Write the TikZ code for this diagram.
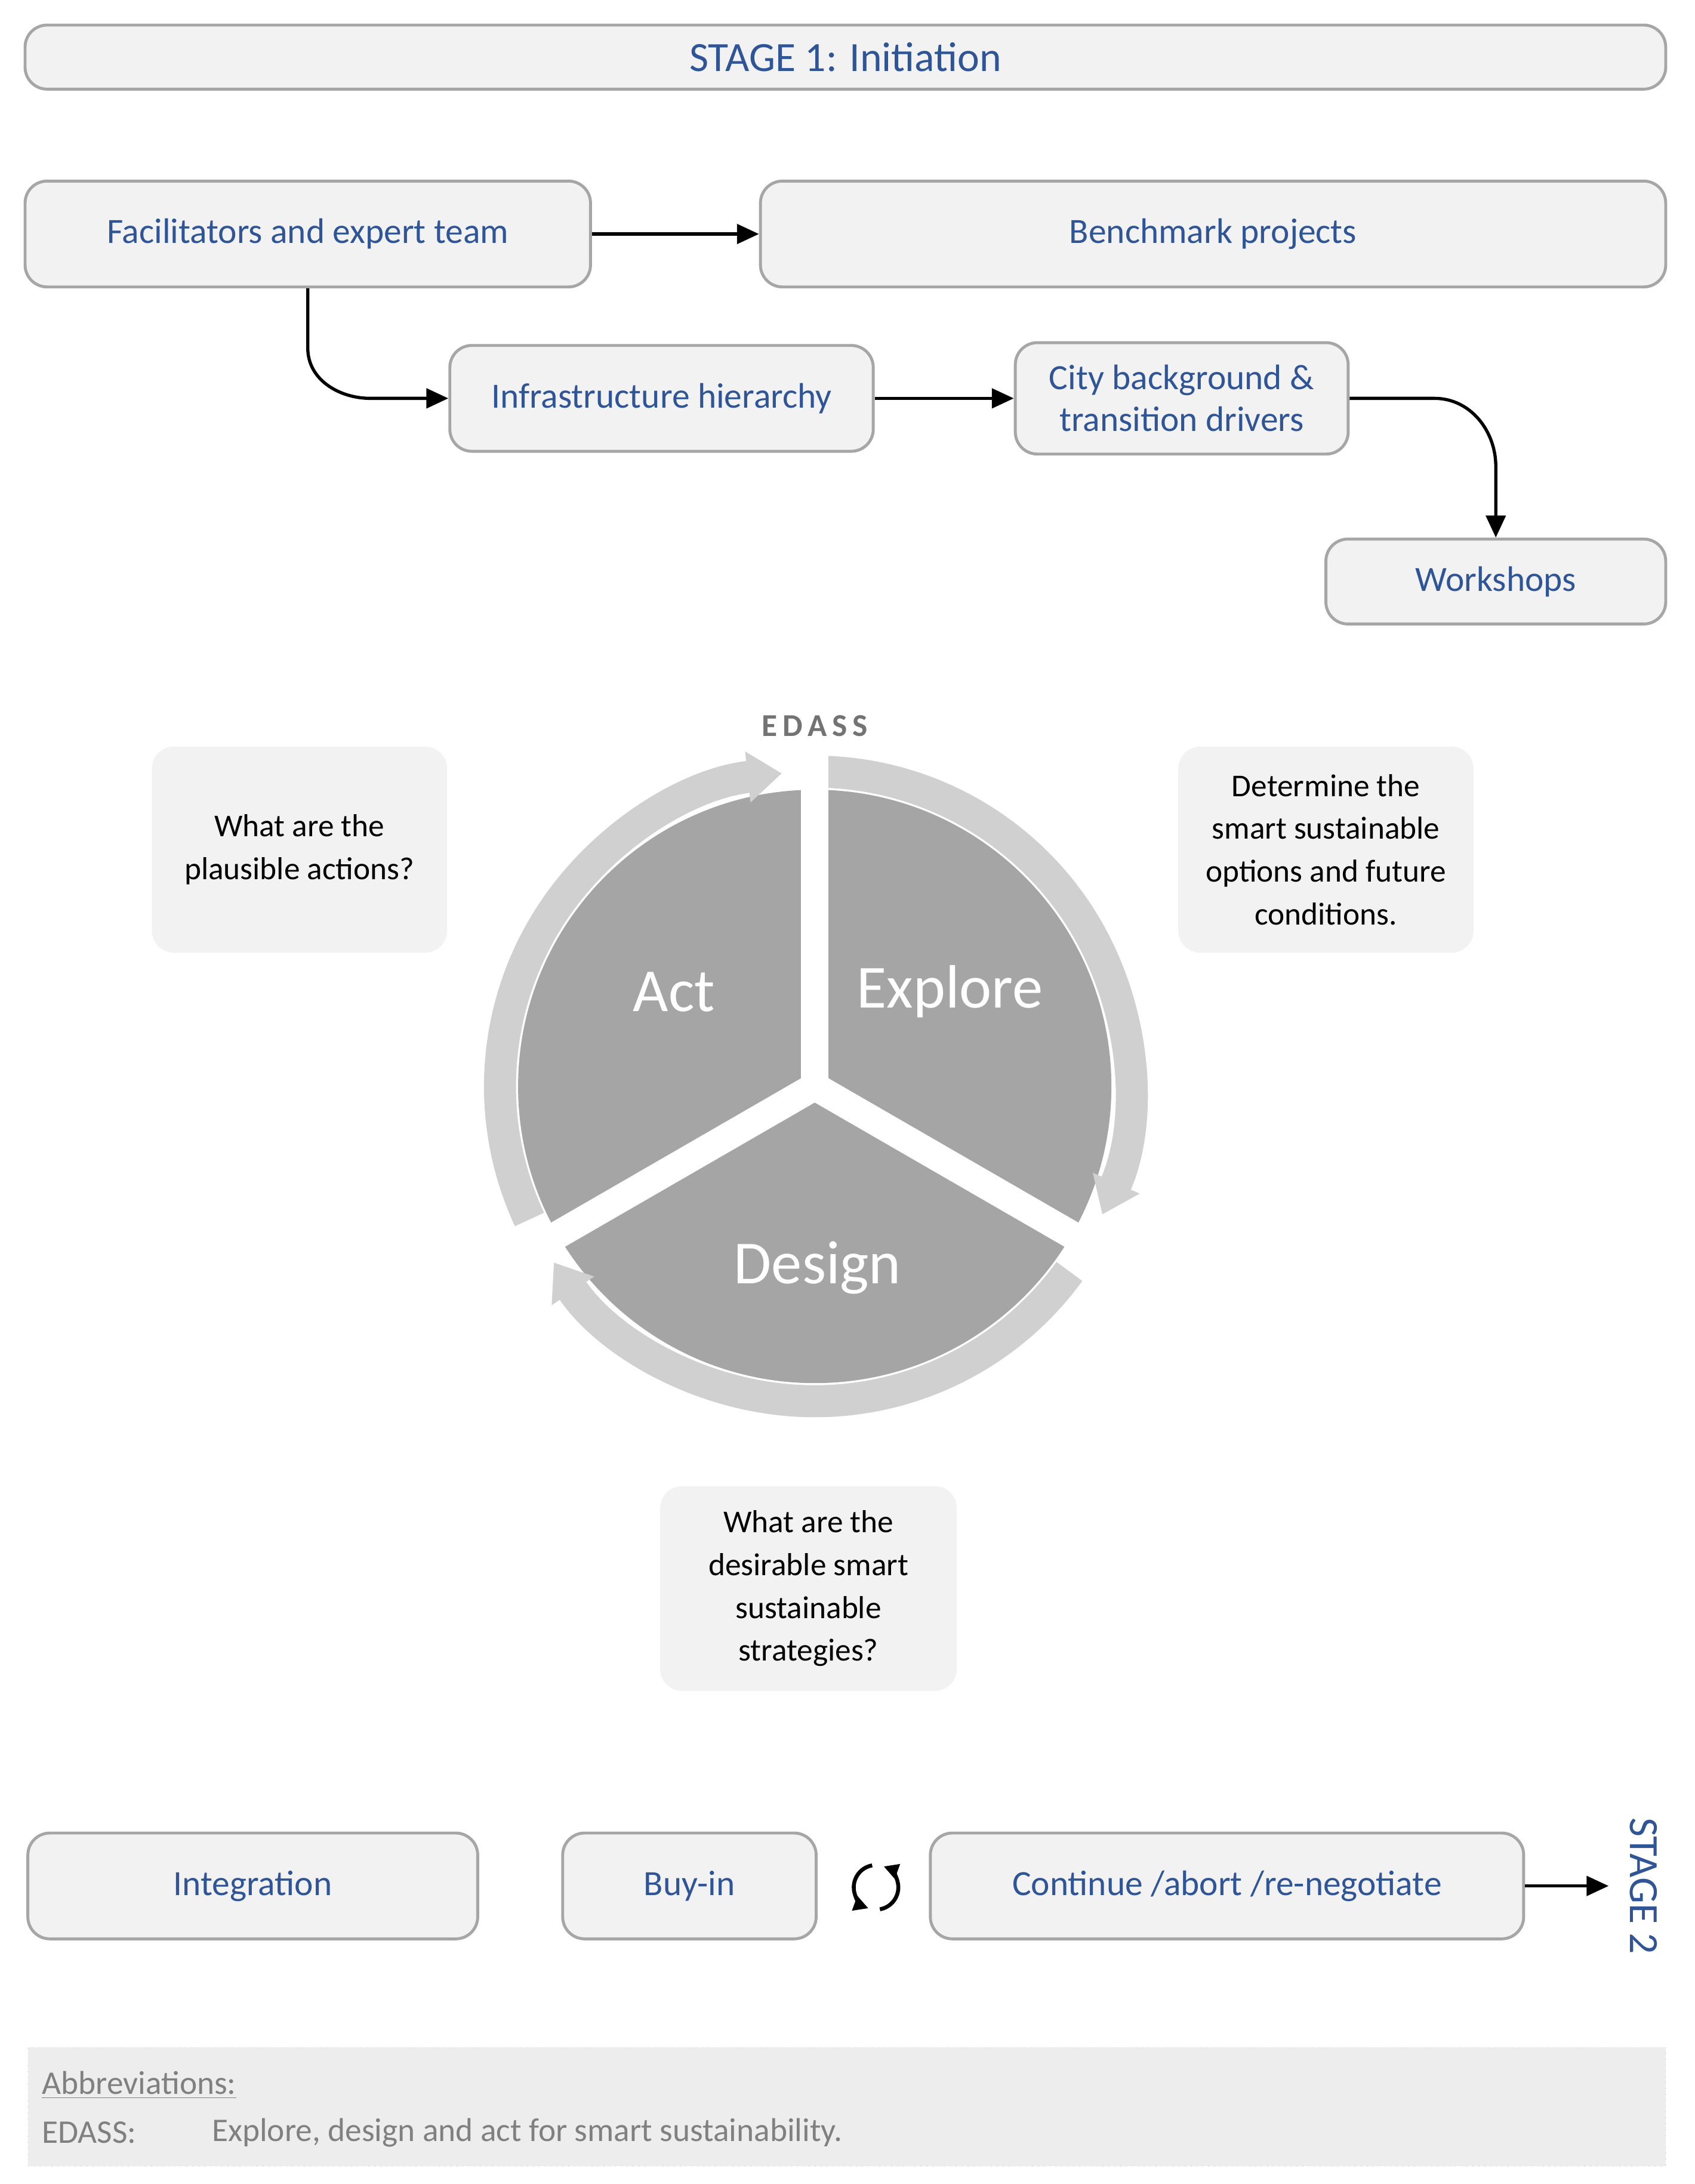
\documentclass[tikz,border=0pt]{standalone}
\usepackage{fontspec}
\setmainfont{Carlito}
\usetikzlibrary{arrows.meta}
\definecolor{bfill}{HTML}{F2F2F2}
\definecolor{bdraw}{HTML}{A6A6A6}
\definecolor{btext}{HTML}{2F5597}
\definecolor{pie}{HTML}{A5A5A5}
\definecolor{ring}{HTML}{D0D0D0}
\tikzset{
 bx/.style={draw=bdraw,line width=1.2pt,fill=bfill,rounded corners=9pt,text=btext,font=\fontsize{14.5}{17}\selectfont,align=center},
 qx/.style={fill=bfill,rounded corners=9pt,text=black,font=\fontsize{13}{17.5}\selectfont,align=center},
 conn/.style={line width=1.3pt,-{Triangle[length=9pt,width=8pt]}},
}
\begin{document}
\begin{tikzpicture}[x=0.02cm,y=-0.02cm]
\useasboundingbox (0,0) rectangle (1217,1568);
% boxes
\node[bx,font=\fontsize{17}{20}\selectfont,minimum width=1178*0.02cm,minimum height=46*0.02cm] (s1) at (607,41) {STAGE 1: Initiation};
\node[bx,minimum width=406*0.02cm,minimum height=76*0.02cm] (fac) at (221,168) {Facilitators and expert team};
\node[bx,minimum width=650*0.02cm,minimum height=76*0.02cm] (ben) at (871,168) {Benchmark projects};
\node[bx,minimum width=304*0.02cm,minimum height=76*0.02cm] (inf) at (475,286) {Infrastructure hierarchy};
\node[bx,minimum width=239*0.02cm,minimum height=80*0.02cm,inner sep=2pt] (city) at (848.5,286) {City background \&\\transition drivers};
\node[bx,minimum width=244*0.02cm,minimum height=61*0.02cm] (ws) at (1074,417.5) {Workshops};
\draw[conn] (fac.east) -- (ben.west);
\draw[conn] (fac.south) -- (221,250) to[out=-90,in=180] (266,286) -- (inf.west);
\draw[conn] (inf.east) -- (city.west);
\draw[conn] (city.east) -- (1030,286) to[out=0,in=90] (1074,335) -- (ws.north);
% questions
\node[qx,minimum width=212*0.02cm,minimum height=148*0.02cm] (q1) at (215,610) {What are the\\plausible actions?};
\node[qx,minimum width=212*0.02cm,minimum height=148*0.02cm] (q2) at (952,610) {Determine the\\smart sustainable\\options and future\\conditions.};
\node[qx,minimum width=213*0.02cm,minimum height=147*0.02cm] (q3) at (580.5,1140.5) {What are the\\desirable smart\\sustainable\\strategies?};
% cycle
\coordinate (c) at (585,780);
\fill[pie] (c) circle[radius=213*0.02cm];
\begin{scope}[line width=23*0.02cm,color=ring]
\draw[-{Triangle[length=14pt,width=20pt]}] ([shift={(88:226*0.02cm)}]c) arc[start angle=88,end angle=-24,radius=226*0.02cm];
\draw[-{Triangle[length=14pt,width=20pt]}] ([shift={(-36:226*0.02cm)}]c) arc[start angle=-36,end angle=-146,radius=226*0.02cm];
\draw[-{Triangle[length=14pt,width=20pt]}] ([shift={(205:226*0.02cm)}]c) arc[start angle=205,end angle=96,radius=226*0.02cm];
\end{scope}
\begin{scope}[white,line width=20*0.02cm]
\draw (c) -- ++(90:250*0.02cm);
\draw (c) -- ++(-30:250*0.02cm);
\draw (c) -- ++(210:250*0.02cm);
\end{scope}
\node[text=white,font=\fontsize{25}{30}\selectfont] (act) at (484,712) {Act};
\node[text=white,font=\fontsize{25}{30}\selectfont] (exp) at (682,712) {Explore};
\node[text=white,font=\fontsize{25}{30}\selectfont] (des) at (587,910) {Design};
\node[text=gray!90!black,font=\bfseries\fontsize{13}{15}\selectfont] (ed) at (585,521) {E\,D\,A\,S\,S};
% bottom row
\node[bx,minimum width=323*0.02cm,minimum height=76*0.02cm] (int) at (181.5,1354) {Integration};
\node[bx,minimum width=182*0.02cm,minimum height=76*0.02cm] (buy) at (495,1354) {Buy-in};
\node[bx,minimum width=426*0.02cm,minimum height=76*0.02cm] (cont) at (881,1354) {Continue /abort /re-negotiate};
\coordinate (cyc) at (629,1355);
\draw[line width=1.6pt,-{Triangle[length=6pt,width=6pt]}] ([shift={(100:16*0.02cm)}]cyc) arc[start angle=100,end angle=250,radius=16*0.02cm];
\draw[line width=1.6pt,-{Triangle[length=6pt,width=6pt]}] ([shift={(-80:16*0.02cm)}]cyc) arc[start angle=-80,end angle=70,radius=16*0.02cm];
\coordinate (s2end) at (1155,1354);
\draw[conn] (cont.east) -- (s2end);
\node[text=btext,rotate=-90,font=\fontsize{17}{20}\selectfont] (s2) at (1180,1354) {STAGE 2};
% abbreviations
\node[fill=black!7,draw=black!12,dotted,minimum width=1176*0.02cm,minimum height=85*0.02cm] (ab) at (608,1512.5) {};
\node[anchor=west,text=gray,font=\fontsize{13.5}{16}\selectfont] (abt) at (24,1497) {\underline{Abbreviations:}};
\node[anchor=west,text=gray,font=\fontsize{13.5}{16}\selectfont] (abe) at (24,1531) {EDASS:};
\node[anchor=west,text=gray,font=\fontsize{13.5}{16}\selectfont] (abd) at (146,1531) {Explore, design and act for smart sustainability.};
\end{tikzpicture}
\end{document}
